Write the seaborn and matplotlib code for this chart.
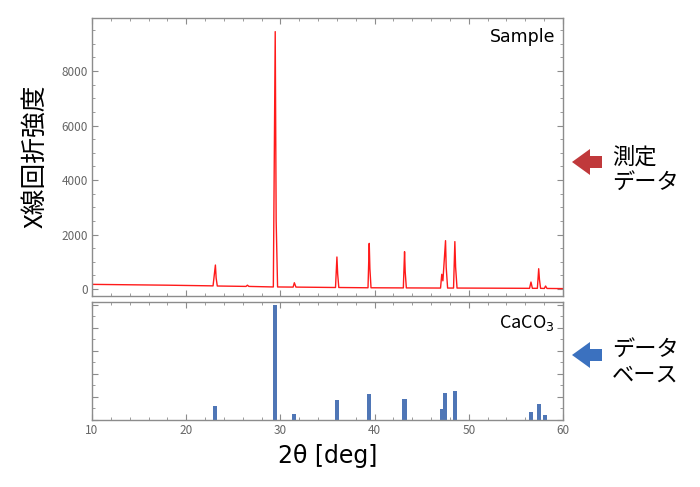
import matplotlib
matplotlib.use("Agg")
import matplotlib.pyplot as plt
from matplotlib.patches import Polygon
from matplotlib.ticker import MultipleLocator
import seaborn as sns
import pandas as pd

trace_x = [10, 14, 18, 22.85, 23.1, 23.18, 23.3, 26.35, 26.5, 26.65,
           29.25, 29.45, 29.55, 29.7, 31.35, 31.48, 31.65,
           35.85, 36.0, 36.08, 36.2, 39.3, 39.43, 39.5, 39.62,
           43.05, 43.18, 43.25, 43.37, 47.0, 47.13, 47.25, 47.53, 47.6, 47.75,
           48.38, 48.52, 48.6, 48.75, 56.45, 56.6, 56.75,
           57.28, 57.42, 57.5, 57.62, 58.02, 58.15, 58.3, 60]
trace_y = [170, 155, 140, 115, 880, 400, 110, 95, 140, 95,
           75, 9450, 2500, 75, 70, 230, 70,
           55, 1175, 550, 55, 45, 1675, 750, 45,
           40, 1370, 620, 40, 35, 540, 300, 1775, 800, 35,
           35, 1740, 800, 35, 25, 255, 25,
           25, 745, 350, 25, 20, 110, 20, 15]

# reference pattern (database) lines
ref_pos = [23.05, 29.4, 31.45, 35.98, 39.42, 43.17, 47.13, 47.5, 48.52, 56.58, 57.42, 58.1]
ref_int = [12.3, 100, 5.3, 17.0, 22.5, 18.1, 9.4, 23.4, 24.9, 6.7, 13.7, 4.1]

trace = pd.DataFrame({"two_theta": trace_x, "intensity": trace_y})

sns.set_theme(style="white")
plt.rcParams["font.family"] = ["Noto Sans CJK JP", "DejaVu Sans"]

W, H = 700, 487
fig = plt.figure(figsize=(W / 100, H / 100), dpi=100)

def box(l, t, r, b):
    return [l / W, 1 - b / H, (r - l) / W, (b - t) / H]

ax1 = fig.add_axes(box(92, 18, 563, 296))
ax2 = fig.add_axes(box(92, 302, 563, 420))

sns.lineplot(data=trace, x="two_theta", y="intensity", ax=ax1,
             color="#ff1a1a", linewidth=1.0)
ax2.bar(ref_pos, ref_int, width=0.45, color="#4f76b6", linewidth=0)

frame = "#8c8c8c"
for ax in (ax1, ax2):
    ax.set_xlim(10, 60)
    ax.xaxis.set_major_locator(MultipleLocator(10))
    ax.xaxis.set_minor_locator(MultipleLocator(2))
    for s in ax.spines.values():
        s.set_color(frame)
        s.set_linewidth(1.0)
    ax.tick_params(which="both", direction="in", top=True, right=True,
                   bottom=True, left=True, color=frame, labelcolor="#666666",
                   labelsize=8.5, pad=3)
    ax.tick_params(which="major", length=4, width=0.8)
    ax.tick_params(which="minor", length=2, width=0.6)
    ax.set_xlabel("")
    ax.set_ylabel("")

ax1.set_ylim(-257, 9950)
ax1.yaxis.set_major_locator(MultipleLocator(2000))
ax1.yaxis.set_minor_locator(MultipleLocator(500))
ax1.tick_params(labelbottom=False)

ax2.set_ylim(0, 102.6)
ax2.yaxis.set_major_locator(MultipleLocator(20))
ax2.yaxis.set_minor_locator(MultipleLocator(10))
ax2.tick_params(labelleft=False)

ax1.text(0.983, 0.965, "Sample", transform=ax1.transAxes, ha="right", va="top",
         fontsize=12.5, color="black", family=["DejaVu Sans"])
ax2.text(0.983, 0.91, "CaCO$_3$", transform=ax2.transAxes, ha="right", va="top",
         fontsize=13, color="black")

fig.text(35 / W, 1 - 156 / H, "X線回折強度", rotation=90, ha="center", va="center",
         fontsize=18.5, color="black")
fig.text((92 + 563) / 2 / W, 1 - 456 / H, "2θ [deg]", ha="center", va="center",
         fontsize=17, color="black", family=["DejaVu Sans"])

# block arrows on the right (figure pixel coordinates)
def block_arrow(tip_x, tip_y, color):
    pts = [(tip_x, tip_y), (tip_x + 18, tip_y - 13), (tip_x + 18, tip_y - 6),
           (tip_x + 30, tip_y - 6), (tip_x + 30, tip_y + 6), (tip_x + 18, tip_y + 6),
           (tip_x + 18, tip_y + 13)]
    pts = [(x / W, 1 - y / H) for x, y in pts]
    fig.add_artist(Polygon(pts, closed=True, transform=fig.transFigure,
                           facecolor=color, edgecolor="none"))

block_arrow(572, 162, "#c0393b")
block_arrow(572, 355, "#3b71bf")

fig.text(612 / W, 1 - 170 / H, "測定\nデータ", ha="left", va="center",
         fontsize=16, linespacing=1.15, color="black")
fig.text(612 / W, 1 - 362 / H, "データ\nベース", ha="left", va="center",
         fontsize=16, linespacing=1.15, color="black")

fig.savefig("out.png", dpi=100)
